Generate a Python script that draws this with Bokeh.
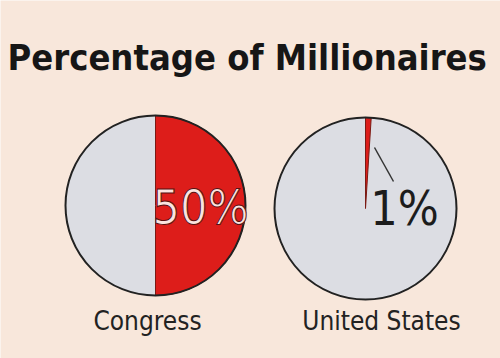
import math
from bokeh.plotting import figure
from bokeh.models import Range1d
from bokeh.core.properties import value
from bokeh.embed import file_html
from bokeh.resources import INLINE

# data
categories = ["Congress", "United States"]
pct_millionaires = [50, 1]
pct_labels = ["50%", "1%"]
title_text = "Percentage of Millionaires"

W, H = 500, 358
BG = "#f8e7db"
GREY = "#dcdde3"
RED = "#dd1d1a"
FONT = value("'DejaVu Sans Condensed', Roboto, sans-serif")

p = figure(width=W, height=H, output_backend="svg", toolbar_location=None,
           x_range=Range1d(0, W), y_range=Range1d(0, H), min_border=0)
p.axis.visible = False
p.grid.visible = False
p.outline_line_color = None
p.background_fill_color = BG
p.border_fill_color = BG

centers_x = [155, 365]
centers_y = [H - 205, H - 208]
radius = [90, 91]

p.circle(x=centers_x, y=centers_y, radius=radius, fill_color=GREY, line_color=None)
starts = [math.pi / 2 - 2 * math.pi * v / 100 for v in pct_millionaires]
ends = [math.pi / 2] * len(pct_millionaires)
p.wedge(x=centers_x, y=centers_y, radius=radius, start_angle=starts, end_angle=ends,
        fill_color=RED, line_color="#7a1a14", line_width=1)
p.circle(x=centers_x, y=centers_y, radius=radius, fill_color=None, line_color="#222222", line_width=2)

p.text(x=[7], y=[H - 57], text=[title_text], text_font=FONT,
       text_font_style="bold", text_font_size="36px", text_color="#161616",
       text_align="left", text_baseline="middle")

p.text(x=[147, 381], y=[H - 320, H - 320], text=categories,
       text_font=FONT, text_font_size="26px",
       text_color="#222222", text_align="center", text_baseline="middle")

p.text(x=[200], y=[H - 206], text=[pct_labels[0]], text_font=FONT,
       text_font_size="48px", text_color="#fbe3e0", text_outline_color="#5a1010",
       text_align="center", text_baseline="middle")
p.text(x=[404], y=[H - 207], text=[pct_labels[1]], text_font=FONT,
       text_font_size="48px", text_color="#1c1c1c",
       text_align="center", text_baseline="middle")

p.segment(x0=[374], y0=[H - 147], x1=[393], y1=[H - 181], line_color="#333333", line_width=1.5)

open("out.html", "w").write(file_html(p, INLINE))
